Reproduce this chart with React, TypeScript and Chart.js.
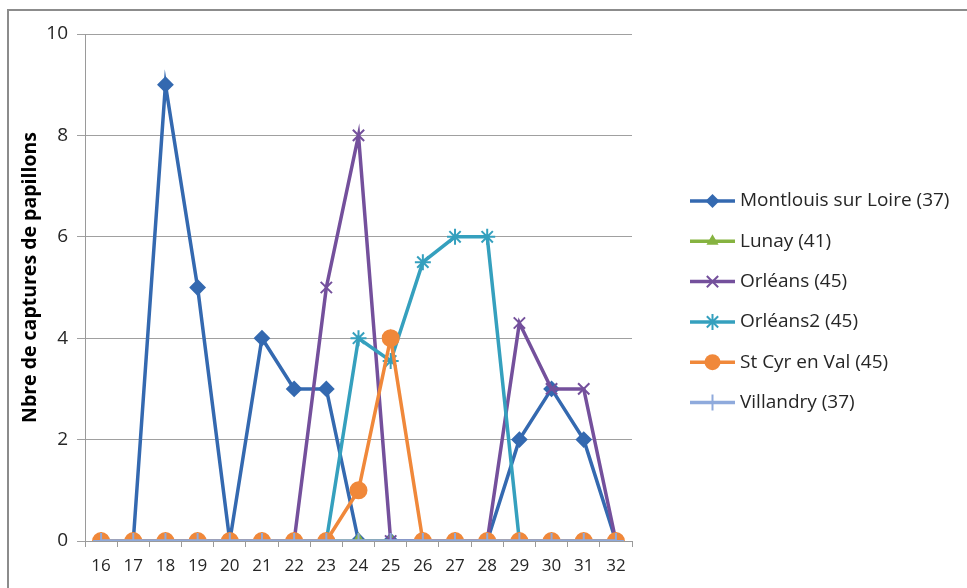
import React, { useEffect, useRef } from 'react';
import { Chart, registerables } from 'chart.js';

Chart.register(...registerables);

const weeks = ['16', '17', '18', '19', '20', '21', '22', '23', '24', '25', '26', '27', '28', '29', '30', '31', '32'];
const montlouis = [0, 0, 9, 5, 0, 4, 3, 3, 0, 0, 0, 0, 0, 2, 3, 2, 0];
const lunay = [0, 0, 0, 0, 0, 0, 0, 0, 0, 0, 0, 0, 0, 0, 0, 0, 0];
const orleans = [0, 0, 0, 0, 0, 0, 0, 5, 8, 0, 0, 0, 0, 4.3, 3, 3, 0];
const orleans2 = [0, 0, 0, 0, 0, 0, 0, 0, 4, 3.55, 5.5, 6, 6, 0, 0, 0, 0];
const stcyr = [0, 0, 0, 0, 0, 0, 0, 0, 1, 4, 0, 0, 0, 0, 0, 0, 0];
const villandry = [0, 0, 0, 0, 0, 0, 0, 0, 0, 0, 0, 0, 0, 0, 0, 0, 0];

const seriesNames = ['Montlouis sur Loire (37)', 'Lunay (41)', 'Orléans (45)', 'Orléans2 (45)', 'St Cyr en Val (45)', 'Villandry (37)'];
const seriesValues = [montlouis, lunay, orleans, orleans2, stcyr, villandry];
const seriesColors = ['#3469B0', '#86B340', '#74509C', '#35A0BE', '#F0883A', '#8FAADC'];
const seriesMarkers = ['rectRot', 'triangle', 'crossRot', 'star', 'circle', 'cross'];
const seriesRadius = [7, 7, 8, 8, 8, 8];
const yTitle = 'Nbre de captures de papillons';

const FONT = '"Open Sans", "Noto Sans", sans-serif';

function drawMarker(ctx: CanvasRenderingContext2D, style: string, x: number, y: number, r: number, color: string) {
  ctx.save();
  ctx.fillStyle = color;
  ctx.strokeStyle = color;
  ctx.lineWidth = 2;
  ctx.beginPath();
  if (style === 'rectRot') {
    ctx.moveTo(x, y - r);
    ctx.lineTo(x + r, y);
    ctx.lineTo(x, y + r);
    ctx.lineTo(x - r, y);
    ctx.closePath();
    ctx.fill();
  } else if (style === 'triangle') {
    ctx.moveTo(x, y - r);
    ctx.lineTo(x + Math.cos(Math.PI / 6) * r, y + r / 2);
    ctx.lineTo(x - Math.cos(Math.PI / 6) * r, y + r / 2);
    ctx.closePath();
    ctx.fill();
  } else if (style === 'circle') {
    ctx.arc(x, y, r, 0, Math.PI * 2);
    ctx.fill();
  } else {
    const d = r * Math.SQRT1_2;
    if (style === 'crossRot' || style === 'star') {
      ctx.moveTo(x - d, y - d);
      ctx.lineTo(x + d, y + d);
      ctx.moveTo(x - d, y + d);
      ctx.lineTo(x + d, y - d);
    }
    if (style === 'cross' || style === 'star') {
      ctx.moveTo(x, y - r);
      ctx.lineTo(x, y + r);
      ctx.moveTo(x - r, y);
      ctx.lineTo(x + r, y);
    }
    ctx.stroke();
  }
  ctx.restore();
}

const legendPlugin = {
  id: 'excelLegend',
  afterDraw(chart: any) {
    const ctx: CanvasRenderingContext2D = chart.ctx;
    const x0 = 690;
    const x1 = 735;
    const yStart = 201;
    const step = 40.3;
    chart.data.datasets.forEach((ds: any, i: number) => {
      const y = yStart + i * step;
      ctx.save();
      ctx.strokeStyle = ds.borderColor;
      ctx.lineWidth = 3.5;
      ctx.beginPath();
      ctx.moveTo(x0, y);
      ctx.lineTo(x1, y);
      ctx.stroke();
      ctx.restore();
      drawMarker(ctx, ds.pointStyle, (x0 + x1) / 2, y, ds.pointRadius, ds.borderColor);
      ctx.save();
      ctx.fillStyle = '#262626';
      ctx.font = `19px ${FONT}`;
      ctx.textBaseline = 'middle';
      ctx.textAlign = 'left';
      ctx.fillText(ds.label, x1 + 5, y);
      ctx.restore();
    });

    // y-axis title, placed as in the reference
    ctx.save();
    ctx.translate(30, 277.5);
    ctx.rotate(-Math.PI / 2);
    ctx.fillStyle = '#000000';
    ctx.font = `bold 19.5px ${FONT}`;
    ctx.textAlign = 'center';
    ctx.textBaseline = 'middle';
    ctx.fillText(yTitle, 0, 0);
    ctx.restore();
  },
};

export default function App() {
  const ref = useRef<HTMLCanvasElement | null>(null);

  useEffect(() => {
    if (!ref.current) return;
    const datasets = seriesNames.map((name, i) => ({
      label: name,
      data: seriesValues[i],
      borderColor: seriesColors[i],
      backgroundColor: seriesColors[i],
      pointBackgroundColor: seriesColors[i],
      pointBorderColor: seriesColors[i],
      pointStyle: seriesMarkers[i],
      pointRadius: seriesRadius[i],
      pointBorderWidth: 2,
      borderWidth: 3.5,
      tension: 0,
      fill: false,
      order: seriesNames.length - i,
    }));

    const chart = new Chart(ref.current, {
      type: 'line',
      data: { labels: weeks, datasets },
      plugins: [legendPlugin],
      options: {
        responsive: false,
        animation: false,
        layout: { padding: { left: 0, top: 34, right: 335, bottom: 0 } },
        plugins: {
          legend: { display: false },
          tooltip: { enabled: false },
        },
        scales: {
          x: {
            offset: true,
            grid: {
              offset: true,
              drawOnChartArea: false,
              drawTicks: true,
              tickLength: 6,
              color: '#9a9a9a',
            },
            border: { display: true, color: '#9a9a9a', width: 1 },
            ticks: {
              color: '#262626',
              font: { family: FONT, size: 17 },
              padding: 9,
              maxRotation: 0,
              autoSkip: false,
            },
            afterFit: (scale: any) => {
              scale.height = 47;
            },
          },
          y: {
            min: 0,
            max: 10,
            ticks: {
              stepSize: 2,
              color: '#262626',
              font: { family: FONT, size: 19 },
              padding: 9,
            },
            grid: {
              color: '#a0a0a0',
              tickLength: 8,
              drawTicks: true,
            },
            border: { display: true, color: '#9a9a9a', width: 1 },
            title: { display: false },
            afterFit: (scale: any) => {
              scale.width = 85;
            },
          },
        },
      },
    });
    return () => chart.destroy();
  }, []);

  return (
    <div style={{ position: 'absolute', left: 0, top: 0, width: 967, height: 588, overflow: 'hidden', background: '#ffffff' }}>
      <div
        style={{
          position: 'absolute',
          left: 7,
          top: 9,
          width: 980,
          height: 600,
          borderLeft: '2px solid #8c8c8c',
          borderTop: '2px solid #8c8c8c',
          boxSizing: 'border-box',
        }}
      />
      <canvas ref={ref} width={967} height={588} style={{ position: 'absolute', left: 0, top: 0 }} />
    </div>
  );
}
